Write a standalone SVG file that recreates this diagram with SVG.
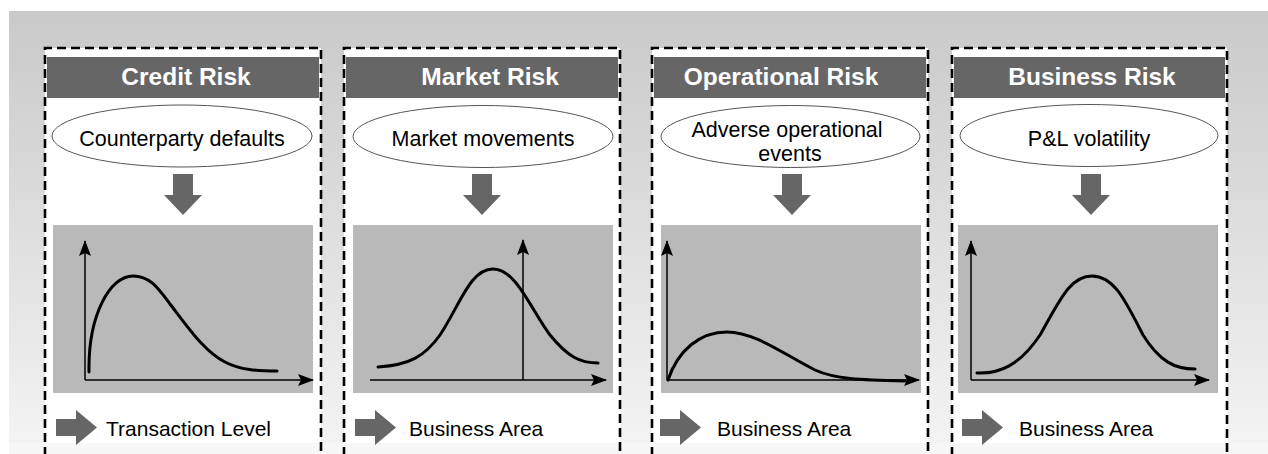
<svg xmlns="http://www.w3.org/2000/svg" width="1268" height="454" viewBox="0 0 1268 454">
  <defs>
    <linearGradient id="bgGrad" x1="0" y1="0" x2="0" y2="1">
      <stop offset="0" stop-color="#c9c9c9"/>
      <stop offset="1" stop-color="#f3f3f3"/>
    </linearGradient>
    <marker id="axisHead" viewBox="0 0 16 12" refX="15" refY="6" markerWidth="16" markerHeight="12" markerUnits="userSpaceOnUse" orient="auto">
      <path d="M0,0 L16,6 L0,12 L3,6 Z" fill="#000"/>
    </marker>
    <path id="downArrow" d="M-10,0 H10 V21 H19 L0,41 L-19,21 H-10 Z"/>
    <path id="rightArrow" d="M0,9 H20 V0 L41,17.5 L20,35 V26 H0 Z"/>
  </defs>
  <style>
    .frame { fill: #ffffff; }
    .dash { fill: none; stroke: #000; stroke-width: 2.6; stroke-dasharray: 9 5; }
    .head { fill: #666666; }
    .title { font-family: "Liberation Sans", Arial, sans-serif; font-weight: bold; font-size: 24.5px; fill: #ffffff; text-anchor: middle; }
    .cause { fill: #ffffff; stroke: #555555; stroke-width: 1; }
    .label { font-family: "Liberation Sans", Arial, sans-serif; font-size: 21.5px; fill: #000; text-anchor: middle; }
    .foot { font-family: "Liberation Sans", Arial, sans-serif; font-size: 21px; fill: #000; }
    .block { fill: #666666; }
    .plot { fill: #b9b9b9; }
    .axis { fill: none; stroke: #000; stroke-width: 1.5; marker-end: url(#axisHead); }
    .curve { fill: none; stroke: #000; stroke-width: 3; stroke-linecap: round; }
  </style>

  <!-- backdrop -->
  <rect x="0" y="0" width="1268" height="454" fill="#ffffff"/>
  <rect x="9" y="11" width="1259" height="432" fill="url(#bgGrad)"/>
  <rect x="9" y="443" width="1259" height="11" fill="#f7f7f7"/>

  <!-- Credit Risk column -->
  <g id="credit-risk">
    <rect class="frame" x="45" y="48" width="276" height="395"/>
    <path class="dash" d="M45,456 V48 H321 V456"/>
    <rect class="head" x="47" y="57" width="272" height="41"/>
    <text class="title" x="186" y="85">Credit Risk</text>
    <ellipse class="cause" cx="182" cy="136" rx="130" ry="31"/>
    <text class="label" x="182" y="146">Counterparty defaults</text>
    <use href="#downArrow" class="block" x="183" y="174"/>
    <rect class="plot" x="53" y="225" width="260" height="168"/>
    <use href="#rightArrow" class="block" x="56" y="410"/>
    <text class="foot" x="106" y="436">Transaction Level</text>
  </g>

  <!-- Market Risk column -->
  <g id="market-risk">
    <rect class="frame" x="344" y="48" width="276" height="395"/>
    <path class="dash" d="M344,456 V48 H620 V456"/>
    <rect class="head" x="346" y="57" width="272" height="41"/>
    <text class="title" x="490" y="85">Market Risk</text>
    <ellipse class="cause" cx="483" cy="136.5" rx="130" ry="31"/>
    <text class="label" x="483" y="146">Market movements</text>
    <use href="#downArrow" class="block" x="482" y="174"/>
    <rect class="plot" x="353" y="225" width="260" height="168"/>
    <use href="#rightArrow" class="block" x="355" y="410"/>
    <text class="foot" x="409" y="436">Business Area</text>
  </g>

  <!-- Operational Risk column -->
  <g id="operational-risk">
    <rect class="frame" x="652" y="48" width="276" height="395"/>
    <path class="dash" d="M652,456 V48 H928 V456"/>
    <rect class="head" x="654" y="57" width="272" height="41"/>
    <text class="title" x="781" y="85">Operational Risk</text>
    <ellipse class="cause" cx="790.5" cy="136.5" rx="129.5" ry="31"/>
    <text class="label" x="787" y="137">Adverse operational</text>
    <text class="label" x="790" y="161">events</text>
    <use href="#downArrow" class="block" x="792" y="174"/>
    <rect class="plot" x="661" y="225" width="260" height="168"/>
    <use href="#rightArrow" class="block" x="660" y="410"/>
    <text class="foot" x="717" y="436">Business Area</text>
  </g>

  <!-- Business Risk column -->
  <g id="business-risk">
    <rect class="frame" x="952" y="48" width="275" height="395"/>
    <path class="dash" d="M952,456 V48 H1227 V456"/>
    <rect class="head" x="954" y="57" width="271" height="41"/>
    <text class="title" x="1092" y="85">Business Risk</text>
    <ellipse class="cause" cx="1089" cy="135.5" rx="129" ry="31"/>
    <text class="label" x="1089" y="146">P&amp;L volatility</text>
    <use href="#downArrow" class="block" x="1091" y="174"/>
    <rect class="plot" x="958" y="225" width="260" height="168"/>
    <use href="#rightArrow" class="block" x="962" y="410"/>
    <text class="foot" x="1019" y="436">Business Area</text>
  </g>

  <!-- chart axes and distribution curves -->
  <g id="connectors">
    <!-- credit: skewed loss distribution -->
    <path class="axis" d="M85,380 V241"/>
    <path class="axis" d="M85,380 H313"/>
    <path class="curve" d="M89,372 C88,315 110,276 133,276 C150,276 158,288 170,304 C190,330 205,352 225,362 C240,370 258,371 277,371"/>

    <!-- market: symmetric distribution with quantile marker -->
    <path class="axis" d="M370,380 H606"/>
    <path class="axis" d="M523,380 V240"/>
    <path class="curve" d="M378,367 C410,365 425,356 440,335 C460,305 470,269 493,269 C516,269 530,308 550,335 C568,357 580,363 598,363"/>

    <!-- operational: long flat tail -->
    <path class="axis" d="M667,380 V241"/>
    <path class="axis" d="M667,380 H919"/>
    <path class="curve" d="M668,380 C678,350 700,332 727,332 C755,332 785,355 815,370 C835,379 860,380 905,381"/>

    <!-- business: symmetric distribution -->
    <path class="axis" d="M971,380 V241"/>
    <path class="axis" d="M971,380 H1209"/>
    <path class="curve" d="M977,373 C1000,374 1020,365 1040,335 C1060,300 1070,276 1092,276 C1114,276 1125,300 1143,335 C1160,362 1175,369 1195,369"/>
  </g>
</svg>
